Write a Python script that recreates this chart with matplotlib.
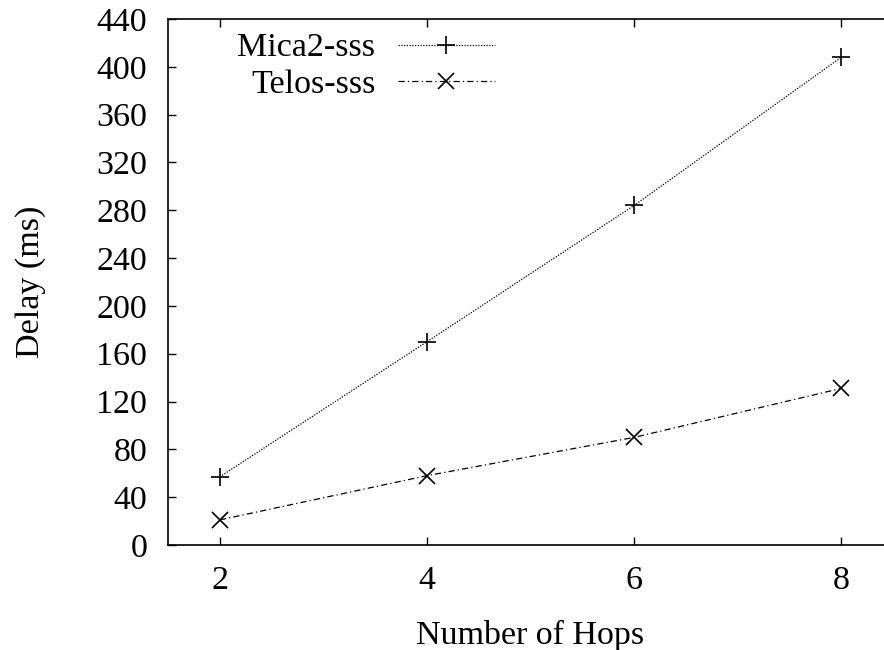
import matplotlib
matplotlib.use("Agg")
import matplotlib.pyplot as plt

hops = [2, 4, 6, 8]
mica2 = [57, 170, 284, 408]
telos = [21, 58, 90, 131]
yticks = list(range(0, 441, 40))
xticks = [2, 4, 6, 8]

plt.rcParams['font.family'] = ['Liberation Serif', 'DejaVu Serif']
FS = 24.5
plt.rcParams['font.size'] = FS

fig = plt.figure(figsize=(8.84, 6.5), dpi=100)
ax = fig.add_axes([168/884, 105/650, 725/884, 526/650])

ax.plot(hops, mica2, color='black', linewidth=0.9, linestyle=(0, (1, 1.2)),
        marker='+', markersize=13, markeredgewidth=1.2, label='Mica2-sss')
ax.plot(hops, telos, color='black', linewidth=0.9, linestyle=(0, (5, 2.5, 1, 2.5)),
        marker='x', markersize=11, markeredgewidth=1.2, label='Telos-sss')

ax.set_xlim(1.5, 8.5)
ax.set_ylim(0, 440)
ax.set_xticks(xticks)
ax.set_yticks(yticks)
ax.tick_params(direction='in', length=6, width=1, top=True, right=True, labelsize=FS)
ax.tick_params(axis='y', pad=15)
ax.tick_params(axis='x', pad=15)
for s in ax.spines.values():
    s.set_linewidth(1.2)

ax.set_xlabel('Number of Hops', fontsize=FS, labelpad=17)
ax.set_ylabel('Delay (ms)', fontsize=FS, labelpad=36)

leg = ax.legend(loc='upper left', bbox_to_anchor=(0.077, 1.0), markerfirst=False,
                frameon=False, handlelength=2.85, handletextpad=0.65,
                labelspacing=0.16, fontsize=FS, borderaxespad=0.0)
for t in leg.get_texts():
    t.set_ha('right')
leg._legend_box.align = 'right'

fig.savefig('out.png', dpi=100)
